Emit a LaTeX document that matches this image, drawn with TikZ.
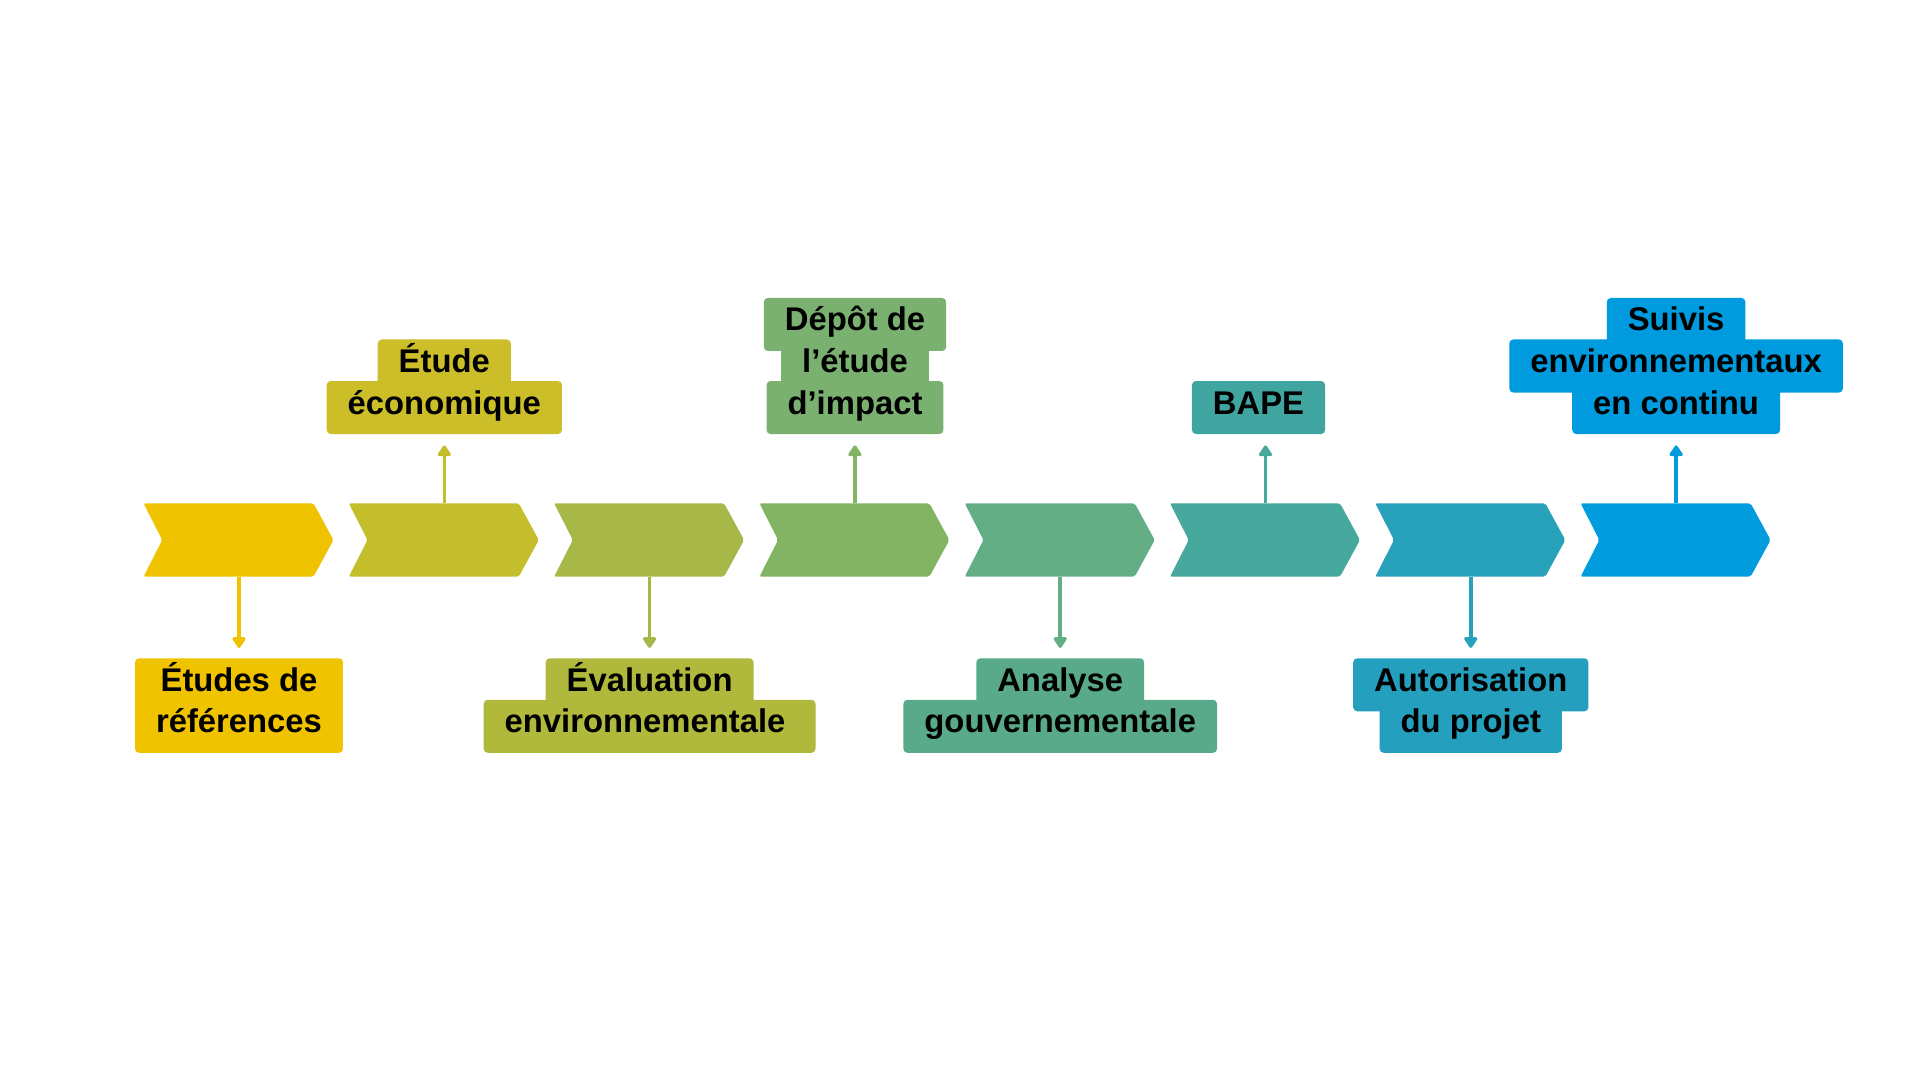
\documentclass[tikz,border=0pt]{standalone}
\usepackage{fontspec}
\setmainfont{Liberation Sans}
\usepackage{calc}
\usetikzlibrary{arrows.meta}
\definecolor{chA}{HTML}{F0C300}
\definecolor{chB}{HTML}{C4BE2D}
\definecolor{chC}{HTML}{A8B848}
\definecolor{chD}{HTML}{82B464}
\definecolor{chE}{HTML}{63AE84}
\definecolor{chF}{HTML}{47A89E}
\definecolor{chG}{HTML}{28A2BA}
\definecolor{chH}{HTML}{009CDE}
\definecolor{lbA}{HTML}{F0C300}
\definecolor{lbB}{HTML}{CCBE28}
\definecolor{lbC}{HTML}{B1B93C}
\definecolor{lbD}{HTML}{7AB070}
\definecolor{lbE}{HTML}{58AA8A}
\definecolor{lbF}{HTML}{40A4A0}
\definecolor{lbG}{HTML}{24A0BE}
\definecolor{lbH}{HTML}{009BDE}
\begin{document}
\begin{tikzpicture}[x=0.5pt,y=-0.5pt,
  lbl/.style={fill=#1, rounded corners=2pt, text height=16.5pt, text depth=10pt,
    inner xsep=10.5pt, inner ysep=0pt, anchor=base,
    font=\fontsize{16.4pt}{20pt}\selectfont\bfseries, text=black},
  arr/.style={draw=#1, line width=1.75pt, -{Triangle[width=7.5pt,length=6pt,round]}},
  dn/.style={shorten >=5pt},
  up/.style={shorten >=5.5pt}
]
\fill[white] (0,0) rectangle (1920,1080);
\useasboundingbox (0,0) rectangle (1920,1080);

% chevrons
\foreach \i/\c in {1/chA,2/chB,3/chC,4/chD,5/chE,6/chF,7/chG,8/chH}{
  \pgfmathsetmacro\L{143.5+205.3*(\i-1)}
  \fill[\c, rounded corners=1pt] (\L,503.3) -- ++(170,0) -- ++(20,36.7) -- ++(-20,36.7)
     -- ++(-170,0) -- ++(18.7,-36.7) -- cycle;
  \coordinate (t\i) at (\L+95.5,503.3);
  \coordinate (b\i) at (\L+95.5,576.7);
}

% labels
\node[lbl=lbA] (l1a) at (239,691.3) {\makebox[\widthof{références}]{Études de}};
\node[lbl=lbA] (l1b) at (239,732.8) {références};

\node[lbl=lbB] (l2a) at (444.3,372.5) {Étude};
\node[lbl=lbB] (l2b) at (444.3,414) {économique};

\node[lbl=lbC] (l3a) at (649.6,691.3) {Évaluation};
\node[lbl=lbC] (l3b) at (649.6,732.8) {environnementale\rule{0.278em}{0pt}};

\node[lbl=lbD] (l4a) at (855,331) {Dépôt de};
\node[lbl=lbD] (l4b) at (855,372.5) {l’étude};
\node[lbl=lbD] (l4c) at (855,414) {d’impact};

\node[lbl=lbE] (l5a) at (1060.2,691.3) {Analyse};
\node[lbl=lbE] (l5b) at (1060.2,732.8) {gouvernementale};

\node[lbl=lbF] (l6) at (1258.5,414) {BAPE};

\node[lbl=lbG] (l7a) at (1470.8,691.3) {Autorisation};
\node[lbl=lbG] (l7b) at (1470.8,732.8) {du projet};

\node[lbl=lbH] (l8a) at (1676.1,331) {Suivis};
\node[lbl=lbH] (l8b) at (1676.1,372.5) {environnementaux};
\node[lbl=lbH] (l8c) at (1676.1,414) {en continu};

% connectors
\draw[arr=chA, dn] (b1) -- (b1 |- l1a.north);
\draw[arr=chB, up] (t2) -- (t2 |- l2b.south);
\draw[arr=chC, dn] (b3) -- (b3 |- l3a.north);
\draw[arr=chD, up] (t4) -- (t4 |- l4c.south);
\draw[arr=chE, dn] (b5) -- (b5 |- l5a.north);
\draw[arr=chF, up] (t6) -- (t6 |- l6.south);
\draw[arr=chG, dn] (b7) -- (b7 |- l7a.north);
\draw[arr=chH, up] (t8) -- (t8 |- l8c.south);
\end{tikzpicture}
\end{document}
